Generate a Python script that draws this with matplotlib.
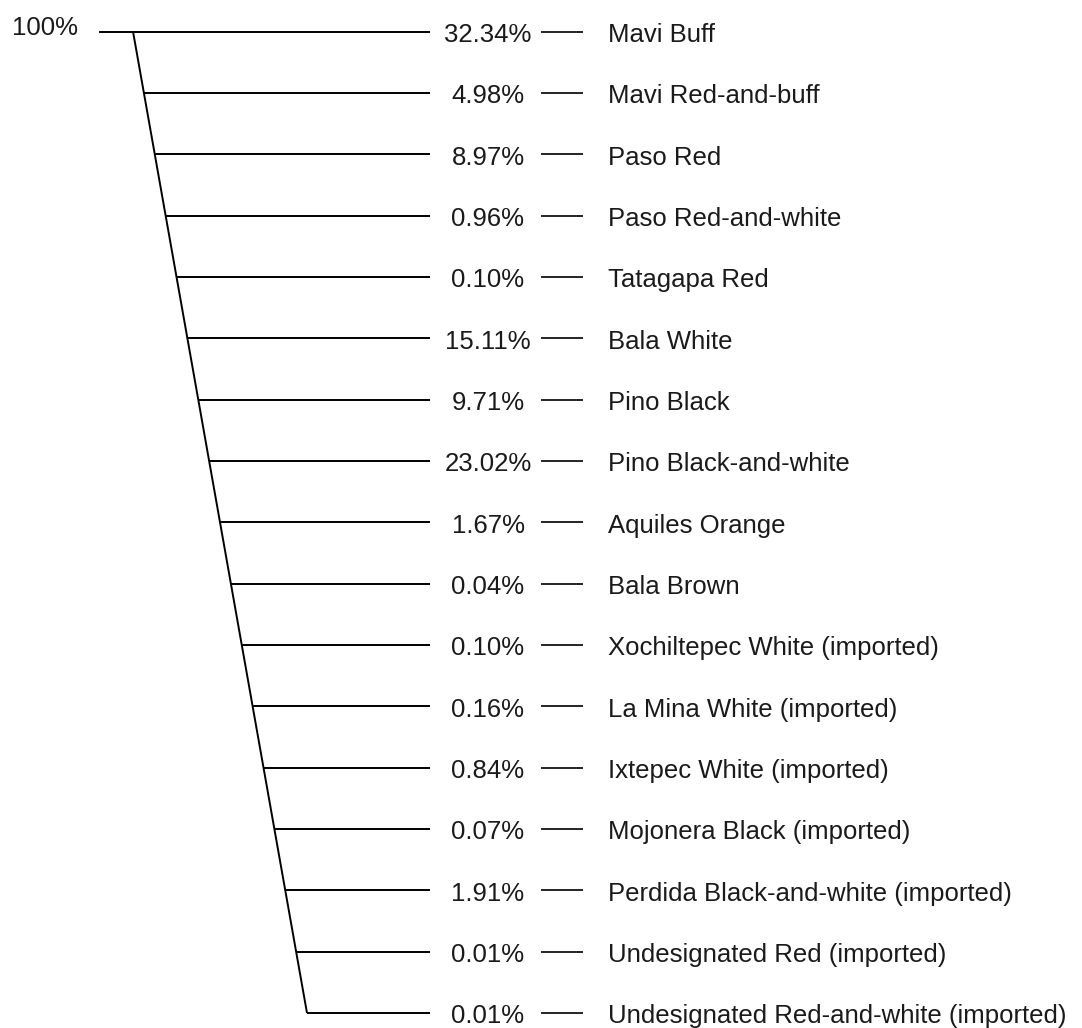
import numpy as np
import matplotlib
matplotlib.use("Agg")
import matplotlib.pyplot as plt

plt.rcParams['font.family'] = ['Liberation Sans', 'DejaVu Sans']

# ceramic types and their share of the assemblage
types = ["Mavi Buff", "Mavi Red-and-buff", "Paso Red", "Paso Red-and-white",
         "Tatagapa Red", "Bala White", "Pino Black", "Pino Black-and-white",
         "Aquiles Orange", "Bala Brown", "Xochiltepec White (imported)",
         "La Mina White (imported)", "Ixtepec White (imported)",
         "Mojonera Black (imported)", "Perdida Black-and-white (imported)",
         "Undesignated Red (imported)",
         "Undesignated Red-and-white (imported)"]
pcts = [32.34, 4.98, 8.97, 0.96, 0.10, 15.11, 9.71, 23.02, 1.67, 0.04,
        0.10, 0.16, 0.84, 0.07, 1.91, 0.01, 0.01]
total_label = "100%"

n = len(types)
rows = np.arange(n)

fig = plt.figure(figsize=(10.82, 10.28), dpi=100)
ax = fig.add_axes([0, 0, 1, 1])
ax.set_xlim(0, 1082)
row_px = (1013 - 31.5) / (n - 1)
ax.set_ylim((1028 - 31.5) / row_px, -31.5 / row_px)
ax.axis('off')

# baseline offset of text below each branch line (in rows)
base = 10.5 / row_px

# slanted trunk
x_top, x_bot = 133, 307
trunk_x = x_top + (x_bot - x_top) * rows / (n - 1)
ax.plot(trunk_x, rows, color='black', lw=1.4, solid_capstyle='butt')

# root stub and total
ax.plot([100, x_top], [0, 0], color='black', lw=1.4)
ax.text(45, 3.5 / row_px, total_label, ha='center', va='baseline',
        fontsize=18.5, color='#1a1a1a')

# branches
ax.hlines(rows, trunk_x, 430, color='black', lw=1.4)
ax.hlines(rows, 541, 583, color='black', lw=1.2)
for r, p, name in zip(rows, pcts, types):
    ax.text(488, r + base, f"{p:.2f}%", ha='center', va='baseline',
            fontsize=18.5, color='#1a1a1a')
    ax.text(608, r + base, name, ha='left', va='baseline', fontsize=18.5,
            color='#1a1a1a')

fig.savefig("out.png", dpi=100, facecolor='white')
